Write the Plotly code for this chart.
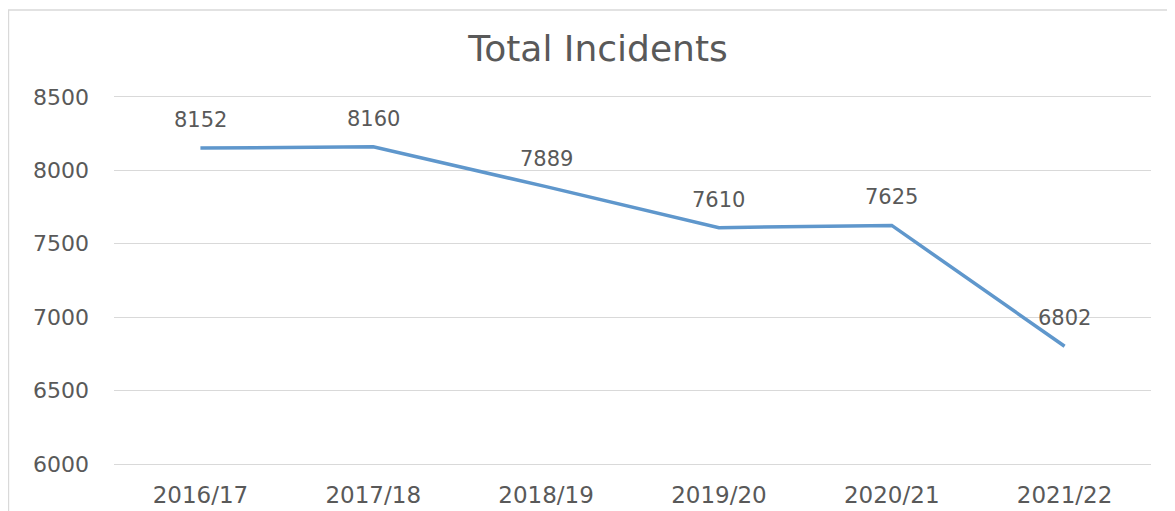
import plotly.graph_objects as go

years = ["2016/17", "2017/18", "2018/19", "2019/20", "2020/21", "2021/22"]
incidents = [8152, 8160, 7889, 7610, 7625, 6802]
y_ticks = [6000, 6500, 7000, 7500, 8000, 8500]

font_family = "DejaVu Sans, Open Sans, sans-serif"
text_col = "#595959"

fig = go.Figure()
fig.add_trace(go.Scatter(
    x=years, y=incidents, mode="lines",
    line=dict(color="#5f97cc", width=3.5),
    hoverinfo="skip", showlegend=False,
))

for yr, v in zip(years, incidents):
    fig.add_annotation(
        x=yr, y=v, text=str(v), showarrow=False, yshift=28,
        font=dict(family=font_family, size=21, color=text_col),
    )

# outer chart border
fig.add_shape(type="rect", xref="paper", yref="paper",
              x0=-0.1018, x1=1.05, y0=-0.3, y1=1.225,
              line=dict(color="#d9d9d9", width=1.5), layer="below")

fig.update_layout(
    width=1167, height=503,
    margin=dict(l=106, r=24, t=86, b=44),
    paper_bgcolor="white", plot_bgcolor="white",
    title=dict(text="Total Incidents", x=0.5056, xanchor="center",
               y=1 - 40 / 503, yanchor="middle",
               font=dict(family=font_family, size=36, color=text_col)),
    xaxis=dict(showgrid=False, showline=False, zeroline=False,
               range=[-0.5, 5.5], automargin=False,
               tickfont=dict(family=font_family, size=23, color=text_col),
               ticks="", ticklabelstandoff=12, fixedrange=True),
    yaxis=dict(range=[5980, 8520], tickvals=y_ticks, automargin=False,
               showgrid=True, gridcolor="#d9d9d9", gridwidth=1,
               zeroline=False, showline=False, ticks="",
               tickfont=dict(family=font_family, size=22, color=text_col),
               ticklabelstandoff=24, fixedrange=True),
)

fig.write_html("out.html")
